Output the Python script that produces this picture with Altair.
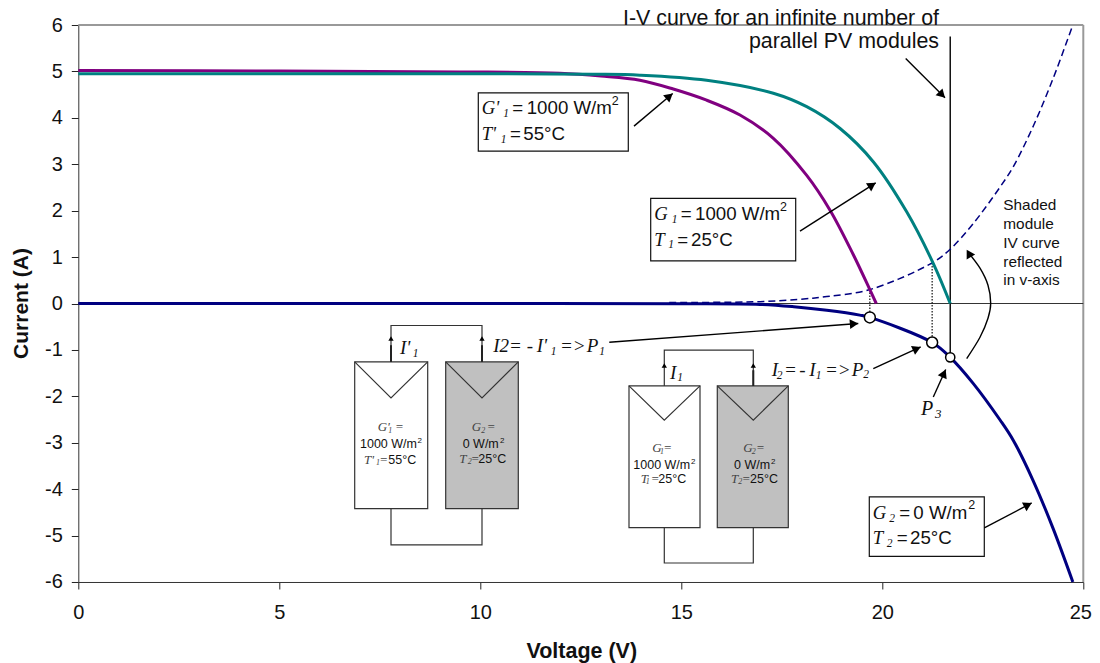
import math
import altair as alt
import pandas as pd

# ---- curves: voltage (V), current (A)
g1_v = [0, 5, 10, 12.8, 13.97, 15.63, 17.29, 18.12, 18.95, 19.78, 20.61, 21.27, 21.69]
g1_i = [4.95, 4.95, 4.95, 4.94, 4.92, 4.81, 4.53, 4.24, 3.77, 3.05, 1.97, 0.86, 0.0]
g1p_v = [0, 5, 9.49, 11.98, 13.0, 13.97, 14.8, 15.63, 16.46, 17.29, 18.12, 18.7, 19.28, 19.69, 19.85]
g1p_i = [5.02, 5.01, 4.99, 4.96, 4.90, 4.81, 4.62, 4.38, 4.06, 3.56, 2.76, 2.01, 1.05, 0.30, 0.0]
g2_v = [0, 5, 10, 15, 16.96, 17.8, 18.62, 19.44, 19.69, 21.24, 21.69, 22.26, 22.93, 23.26, 23.76, 24.25, 24.74]
g2_i = [0, 0, 0, -0.005, -0.02, -0.07, -0.145, -0.25, -0.30, -0.84, -1.16, -1.72, -2.51, -2.95, -3.83, -4.85, -6.0]
refl_v = [14.7, 16.96, 17.95, 18.62, 19.69, 21.24, 21.69, 22.26, 22.93, 23.26, 23.76, 24.25, 24.71]
refl_i = [0.02, 0.04, 0.09, 0.15, 0.30, 0.875, 1.17, 1.72, 2.51, 2.95, 3.83, 4.85, 5.93]
op_v = [19.69, 21.24]
op_i = [-0.30, -0.84]
p3_v = [21.69]
p3_i = [-1.16]
x_ticks = [0, 5, 10, 15, 20, 25]
y_ticks = [6, 5, 4, 3, 2, 1, 0, -1, -2, -3, -4, -5, -6]

TEAL, PURPLE, NAVY = "#008080", "#800080", "#000080"
SANS, SERIF = "Liberation Sans", "Liberation Serif"

PX_V, PX_A = 40.2, 46.4
def X(px):
    return (px - 78.3) / PX_V
def Y(py):
    return (303.3 - py) / PX_A

sx = alt.Scale(domain=[0, 25], nice=False, zero=False)
sy = alt.Scale(domain=[-6, 6], nice=False, zero=False)
ax_x = alt.Axis(
    title="Voltage (V)", values=x_ticks, labelExpr="'' + datum.value", grid=False, tickSize=7,
    labelFontSize=20, labelFont=SANS, labelColor="#111", labelPadding=14, labelFlush=False,
    labelOffset={"condition": {"test": "datum.value === 25", "value": -3}, "value": 0},
    domainColor="#333", tickColor="#222",
    titleFont=SANS, titleFontSize=21.5, titleFontWeight="bold", titleColor="#111",
    titleX=503, titleY=76, titleBaseline="alphabetic",
)
ax_y = alt.Axis(
    title="Current (A)", values=y_ticks, labelExpr="'' + datum.value", grid=False, tickSize=7,
    labelFontSize=20, labelFont=SANS, labelColor="#111", labelPadding=9, labelFlush=False,
    domainColor="#333", tickColor="#222",
    titleFont=SANS, titleFontSize=21, titleFontWeight="bold", titleColor="#111",
    titleX=-50.6, titleY=278, titleBaseline="alphabetic",
)
ex = alt.X("x:Q", scale=sx, axis=ax_x)
ey = alt.Y("y:Q", scale=sy, axis=ax_y)
layers = []

def rules(rows, **mark):
    df = pd.DataFrame(rows, columns=["x", "y", "x2", "y2"])
    return alt.Chart(df).mark_rule(**mark).encode(
        x=ex, y=ey, x2=alt.X2("x2:Q"), y2=alt.Y2("y2:Q"))

# frame top / right, zero line, infinite-parallel vertical line
layers.append(rules([[0, 6, 25, 6], [25, 6, 25, -6]], color="#999999", strokeWidth=2))
layers.append(rules([[0, 0, 25, 0]], color="#333333", strokeWidth=1))
layers.append(rules([[21.69, 5.75, 21.69, -1.16]], color="#111111", strokeWidth=1.5))

def curve(v, i, color, **mark):
    df = pd.DataFrame({"x": v, "y": i, "o": range(len(v))})
    return alt.Chart(df).mark_line(color=color, interpolate="catmull-rom", **mark).encode(
        x=ex, y=ey, order=alt.Order("o:Q"))

# dotted drop lines
layers.append(rules([[19.69, 0.30, 19.69, -0.30], [21.24, 0.875, 21.24, -0.84]],
                    color="#111111", strokeWidth=1.2, strokeDash=[1.5, 1.5]))
layers.append(curve(refl_v, refl_i, NAVY, strokeWidth=1.5, strokeDash=[7, 4]))
layers.append(curve(g1p_v, g1p_i, PURPLE, strokeWidth=3))
layers.append(curve(g1_v, g1_i, TEAL, strokeWidth=3))
layers.append(curve(g2_v, g2_i, NAVY, strokeWidth=3))

# annotation boxes and module rectangles
def boxes(rows, **mark):
    df = pd.DataFrame([[X(a), Y(b), X(c), Y(d)] for a, b, c, d in rows],
                      columns=["x", "y", "x2", "y2"])
    return alt.Chart(df).mark_rect(**mark).encode(
        x=ex, y=ey, x2=alt.X2("x2:Q"), y2=alt.Y2("y2:Q"))

layers.append(boxes([[478.3, 92.7, 628.3, 151], [650.7, 198.3, 795.7, 260.7], [869.3, 496.7, 984.3, 556]],
                    fill="white", stroke="#111111", strokeWidth=1.2))
layers.append(boxes([[354.7, 361.7, 427.7, 508.3], [629, 385.7, 700, 527.3]],
                    fill="white", stroke="#333333", strokeWidth=1.2))
layers.append(boxes([[445.7, 361.7, 518.3, 508.3], [717.3, 385.7, 788.3, 527.3]],
                    fill="#c0c0c0", stroke="#333333", strokeWidth=1.2))

# polylines: module diode "V" and wiring
polys = [
    [(354.7, 361.7), (391, 397.7), (427.7, 361.7)],
    [(445.7, 361.7), (482, 397.7), (518.3, 361.7)],
    [(391, 361.7), (391, 325.3), (482, 325.3), (482, 361.7)],
    [(391, 508.3), (391, 544.5), (482, 544.5), (482, 508.3)],
    [(629, 385.7), (664.3, 420), (700, 385.7)],
    [(717.3, 385.7), (753.3, 420), (788.3, 385.7)],
    [(664.3, 385.7), (664.3, 350), (753.3, 350), (753.3, 385.7)],
    [(664.3, 527.3), (664.3, 562.7), (753.3, 562.7), (753.3, 527.3)],
]
rows = []
for k, poly in enumerate(polys):
    for o, (a, b) in enumerate(poly):
        rows.append({"x": X(a), "y": Y(b), "k": k, "o": o})
layers.append(alt.Chart(pd.DataFrame(rows)).mark_line(color="#333333", strokeWidth=1.2).encode(
    x=ex, y=ey, detail="k:N", order=alt.Order("o:Q")))

# arrows: shaft from tail to tip, triangular head
arrows = [
    (634, 126, 672.7, 93.3), (800, 231, 875.7, 182.7), (905.7, 58.3, 945, 97.7),
    (609.3, 342, 858.3, 323.3), (873.3, 368.3, 920.7, 346.7), (933.3, 396.7, 945.7, 369.3),
    (984.3, 527.7, 1031.7, 502.7),
]
layers.append(rules([[X(a), Y(b), X(c), Y(d)] for a, b, c, d in arrows], color="#000000", strokeWidth=1.4))
curved = [(966.7, 358.3), (980, 337), (988, 318), (990.7, 303), (988, 285), (980, 268), (968, 252)]
layers.append(alt.Chart(pd.DataFrame([{"x": X(a), "y": Y(b), "o": o} for o, (a, b) in enumerate(curved)]))
              .mark_line(color="#000000", strokeWidth=1.4, interpolate="cardinal")
              .encode(x=ex, y=ey, order=alt.Order("o:Q")))

def heads(items, size):
    rows = []
    for (a, b, c, d) in items:
        L = math.hypot(c - a, d - b)
        h = math.sqrt(size) / 2 * 0.866
        rows.append({"x": X(c - (c - a) / L * h), "y": Y(d - (d - b) / L * h),
                     "a": math.degrees(math.atan2(c - a, b - d))})
    return alt.Chart(pd.DataFrame(rows)).mark_point(
        filled=True, shape="triangle-up", color="#000000", opacity=1
    ).encode(x=ex, y=ey, angle=alt.Angle("a:Q", scale=None), size=alt.value(size))

layers.append(heads(arrows + [(975, 264, 966.7, 249.5)], 95))
layers.append(heads([(391, 350, 391, 336), (482, 350, 482, 336), (664.3, 372, 664.3, 363), (753.3, 372, 753.3, 363)], 28))
layers.append(rules([[X(391), Y(345), X(391), Y(361.7)], [X(482), Y(345), X(482), Y(361.7)],
                     [X(753.3), Y(370), X(753.3), Y(385.7)]], color="#222222", strokeWidth=2))

# operating points
pts = pd.DataFrame({"x": op_v, "y": op_i})
layers.append(alt.Chart(pts).mark_point(filled=True, fill="white", stroke="#000000", strokeWidth=1.5, opacity=1, size=120)
              .encode(x=ex, y=ey))
layers.append(alt.Chart(pd.DataFrame({"x": p3_v, "y": p3_i})).mark_point(filled=True, fill="white", stroke="#000000", strokeWidth=1.5, opacity=1, size=85)
              .encode(x=ex, y=ey))

# text pieces
texts = {}
def T(px, py, s, size, serif=False, italic=False, align="left", color="#111111"):
    key = (SERIF if serif else SANS, "italic" if italic else "normal", size, align, color)
    texts.setdefault(key, []).append({"x": X(px), "y": Y(py), "t": s})
def I(px, py, s, size, color="#111111"):
    T(px, py, s, size, serif=True, italic=True, color=color)

T(939, 24.4, "I-V curve for an infinite number of", 21.4, align="right")
T(939, 47.7, "parallel PV modules", 21.4, align="right")

# G'1 box
BIG, SUB, SUP = 18.7, 11.5, 12.5
I(481.7, 114.3, "G'", BIG); I(503.3, 117, "1", SUB); T(512.3, 114.3, "=", BIG); T(526.7, 114.3, "1000 W/m", BIG); T(611.7, 105, "2", SUP)
I(481.7, 140, "T'", BIG); I(500.7, 143, "1", SUB); T(510, 140, "=", BIG); T(523.3, 140, "55°C", BIG)
# G1 box
I(654.3, 220, "G", BIG); I(671.7, 223.3, "1", SUB); T(680.7, 220, "=", BIG); T(695, 220, "1000 W/m", BIG); T(780, 210.7, "2", SUP)
I(654.3, 245.7, "T", BIG); I(668.3, 248.3, "1", SUB); T(677.3, 245.7, "=", BIG); T(691, 245.7, "25°C", BIG)
# G2 box
I(872.7, 519, "G", BIG); I(889.3, 521.7, "2", SUB); T(899.3, 519, "=", BIG); T(913.3, 519, "0 W/m", BIG); T(968.3, 509, "2", SUP)
I(872.7, 544, "T", BIG); I(886.7, 547, "2", SUB); T(896.7, 544, "=", BIG); T(910, 544, "25°C", BIG)

# operating-point labels
M, S = 19, 11.5
I(493.3, 351.7, "I2=", M); I(526.7, 351.7, "-", M); I(536.7, 351.7, "I'", M); I(550.7, 355, "1", S); I(560, 351.7, "=>", M); I(586.7, 351.7, "P", M); I(599.3, 355, "1", S)
I(771.7, 376, "I", M); I(776.7, 379, "2", S); I(784, 376, "=", M); I(799.3, 376, "-", M); I(809.3, 376, "I", M); I(815.7, 379, "1", S); I(825, 376, "=>", M); I(851.7, 376, "P", M); I(863.3, 378, "2", S)
I(921, 415, "P", 20); I(935, 418, "3", 13)

# circuit current labels
I(400, 354, "I'", M); I(412.7, 356.5, "1", S)
I(670, 379, "I", M); I(677.3, 381, "1", S)

# inside modules
GR = "#444444"
A, B, C = 12.5, 13, 8
I(377.7, 430.7, "G'", B, GR); I(388.3, 432.5, "1", C, GR); I(395, 430.7, "=", B, GR)
T(360, 447.7, "1000 W/m", A); T(417.5, 442.5, "2", C)
I(364, 463.3, "T'", B, GR); I(376, 465, "1", C, GR); I(379.3, 463.3, "=", B, GR); T(388.3, 463.3, "55°C", A)
I(471.7, 430.7, "G", B, GR); I(481.3, 432.5, "2", C, GR); I(486.7, 430.7, "=", B, GR)
T(462.7, 447.7, "0 W/m", A); T(500, 442.5, "2", C)
I(459.3, 462.3, "T", B, GR); I(467.7, 464, "2", C, GR); I(470.7, 462.3, "=", B, GR); T(478.3, 462.3, "25°C", A)

I(652.3, 451.7, "G", B, GR); I(660, 453.5, "1", C, GR); I(663.3, 451.7, "=", B, GR)
T(633.3, 469, "1000 W/m", A); T(691, 463.5, "2", C)
I(640.7, 482.3, "T", B, GR); I(645.7, 484, "1", C, GR); I(650.7, 482.3, "=", B, GR); T(658.3, 482.3, "25°C", A)
I(743.3, 451.7, "G", B, GR); I(751.7, 453.5, "2", C, GR); I(756, 451.7, "=", B, GR)
T(734, 469, "0 W/m", A); T(771, 463.5, "2", C)
I(731, 482.3, "T", B, GR); I(738.3, 484, "2", C, GR); I(741.7, 482.3, "=", B, GR); T(750, 482.3, "25°C", A)

# side note
for line, py in zip(["Shaded", "module", "IV curve", "reflected", "in v-axis"], [210, 229, 247.5, 266.5, 285]):
    T(1003.3, py, line, 15.4)

for (font, style, size, align, color), rows in texts.items():
    layers.append(alt.Chart(pd.DataFrame(rows)).mark_text(
        font=font, fontStyle=style, fontSize=size, align=align, baseline="alphabetic", color=color
    ).encode(x=ex, y=ey, text=alt.Text("t:N")))

chart = alt.layer(*layers).properties(
    width=1005, height=557,
    padding={"left": 70.3, "top": 17, "right": 8.5, "bottom": 84},
    autosize=alt.AutoSizeParams(type="none"),
).configure_view(stroke=None).configure_axis(domainWidth=1, tickWidth=1)

chart.save("out.html", embed_options={"renderer": "svg", "actions": False})
